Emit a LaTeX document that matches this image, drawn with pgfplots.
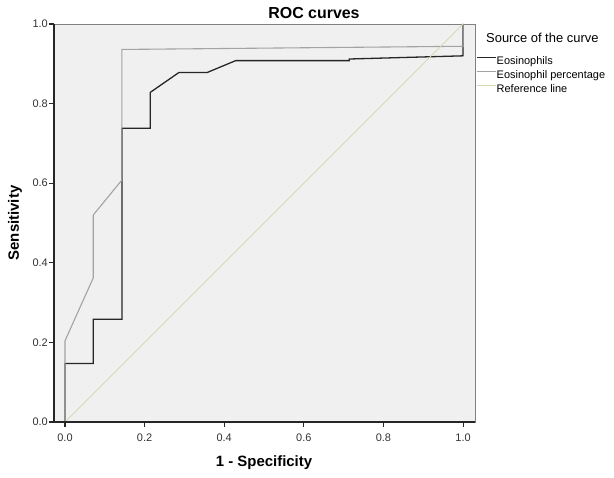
\documentclass[border=0pt]{standalone}
\usepackage{pgfplots}
\pgfplotsset{compat=1.18}
\usepackage{fontspec}
\setmainfont{Liberation Sans}
\definecolor{bgc}{HTML}{F0F0F0}
\definecolor{curveA}{HTML}{262626}
\definecolor{curveB}{HTML}{A3A3A3}
\definecolor{refc}{HTML}{D9D9B4}
\definecolor{framec}{HTML}{808080}
\begin{document}
\begin{tikzpicture}[x=1bp,y=1bp]
\begin{axis}[
  at={(0,0)}, anchor=south west,
  scale only axis, width=421bp, height=398bp,
  xmin=-0.0276, xmax=1.030, ymin=0, ymax=1,
  axis background/.style={fill=bgc},
  axis line style={draw=framec, line width=0.9pt},
  xtick={0,0.2,0.4,0.6,0.8,1.0},
  ytick={0,0.2,0.4,0.6,0.8,1.0},
  tick align=outside, tick pos=left,
  major tick length=5bp,
  tick style={black!85, line width=1.1pt},
  ticklabel style={font=\fontsize{11}{13}\selectfont, text=black!80},
  xticklabel style={anchor=north, inner sep=0pt, yshift=-7bp},
  yticklabel style={anchor=east, inner sep=0pt, xshift=-1bp},
  /pgf/number format/fixed, /pgf/number format/fixed zerofill,
  /pgf/number format/precision=1, /pgf/number format/assume math mode=true,
  scaled ticks=false,
  legend style={at={(1.002,0.927)}, anchor=north west, draw=none, fill=none,
    font=\fontsize{11}{13}\selectfont, row sep=1bp, column sep=0bp, inner sep=0pt,
    nodes={inner sep=0pt, text height=8bp, text depth=2bp}},
  legend cell align=left,
  legend image code/.code={\path[draw=none, fill=none] (0bp,-2bp) rectangle (20bp,8bp); \draw[#1] (0bp,3.5bp) -- (19bp,3.5bp);},
  clip=false,
]
\addplot[curveA, line width=1.3pt] coordinates {
 (0,0) (0,0.147) (0.071,0.147) (0.071,0.258) (0.143,0.258) (0.143,0.738)
 (0.214,0.738) (0.214,0.828) (0.286,0.878) (0.357,0.878) (0.429,0.908)
 (0.714,0.908) (0.714,0.912) (1.0,0.920) (1.0,1.0)};
\addlegendentry{Eosinophils}
\addplot[curveB, line width=1.1pt] coordinates {
 (0,0) (0,0.204) (0.071,0.362) (0.071,0.520) (0.143,0.608) (0.143,0.936)
 (1.0,0.944) (1.0,1.0)};
\addlegendentry{Eosinophil percentage}
\addplot[refc, line width=0.9pt] coordinates {(0,0) (1,1)};
\addlegendentry{Reference line}
\end{axis}
\draw[black!85, line width=1.4pt] (0,398) -- (0,0) -- (421,0);
\node[anchor=base, font=\fontsize{16}{18}\selectfont\bfseries, inner sep=0pt] at (260,403) {ROC curves};
\node[anchor=base, font=\fontsize{15}{17}\selectfont\bfseries, inner sep=0pt] at (210,-45) {1 - Specificity};
\node[anchor=base, rotate=90, font=\fontsize{15}{17}\selectfont\bfseries, inner sep=0pt] at (-35,199) {Sensitivity};
\node[anchor=base west, font=\fontsize{13}{15}\selectfont, inner sep=0pt] at (432,379) {Source of the curve};
\path[use as bounding box] (-54,-56) rectangle (560,422);
\end{tikzpicture}
\end{document}
